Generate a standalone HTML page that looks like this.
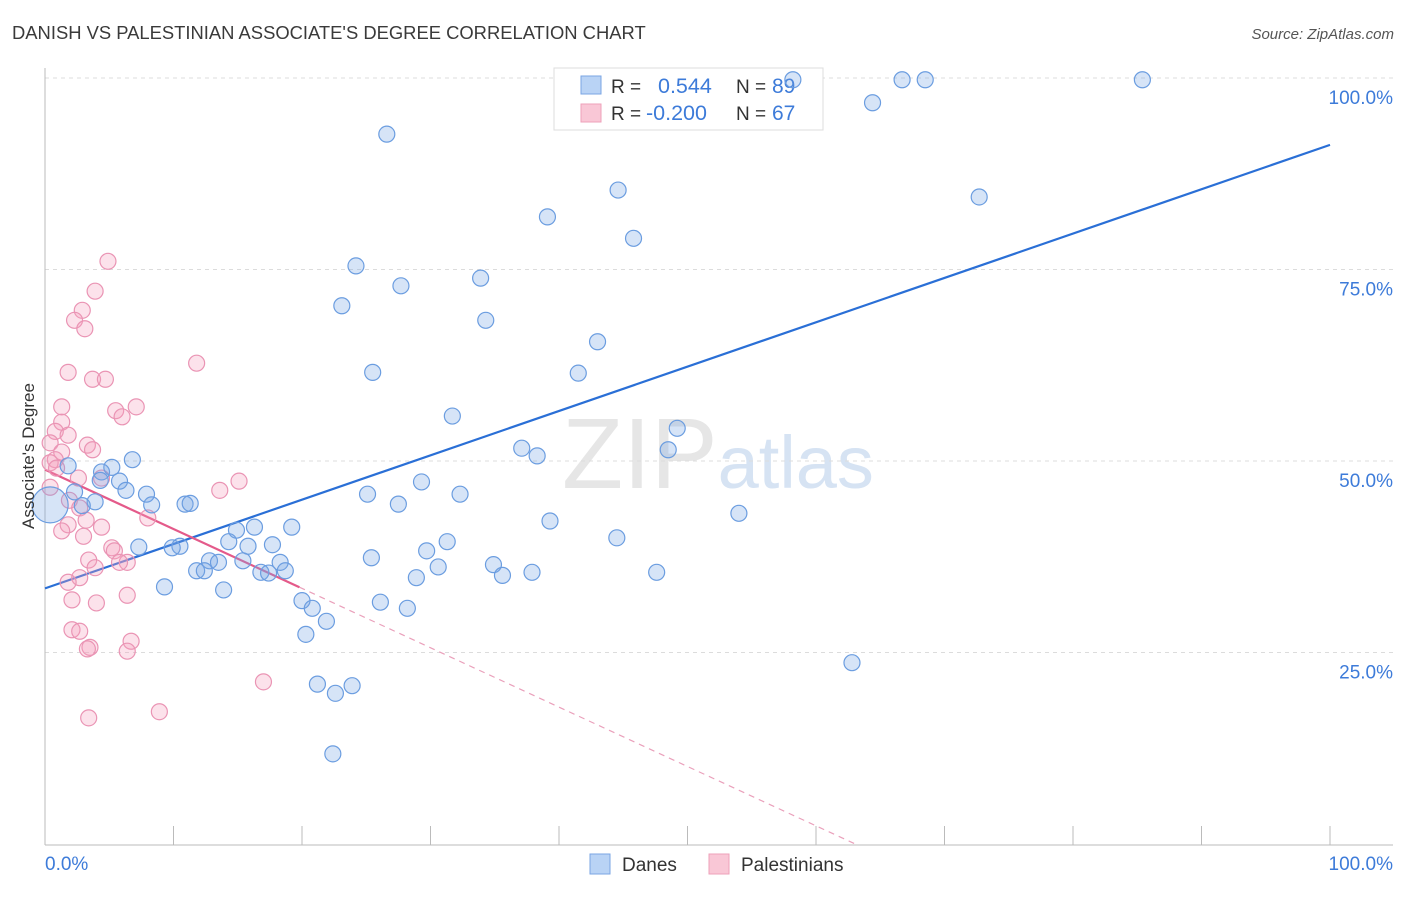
<!DOCTYPE html>
<html><head><meta charset="utf-8"><style>
body{margin:0;background:#fff;font-family:"Liberation Sans",sans-serif;}
svg text{font-family:"Liberation Sans",sans-serif;}
</style></head><body>
<svg id="chart" width="1406" height="892" xmlns="http://www.w3.org/2000/svg">
<text x="12" y="39" font-size="18.4" fill="#3a3a3a">DANISH VS PALESTINIAN ASSOCIATE'S DEGREE CORRELATION CHART</text>
<text x="1394" y="39" font-size="15" fill="#555" text-anchor="end" font-style="italic">Source: ZipAtlas.com</text>
<text x="718" y="488" font-size="100" text-anchor="middle" fill="#e6e6e6" font-family="Liberation Serif">ZIP<tspan fill="#d6e3f3" font-family="Liberation Sans" font-size="74">atlas</tspan></text>
<g id="grid"></g>
<g id="axes"></g>
<g>
<rect x="554" y="68" width="269" height="62" fill="#fff" stroke="#ddd"/>
<rect x="581" y="76" width="20" height="18" fill="#b9d3f5" stroke="#7aa5e3"/>
<rect x="581" y="104" width="20" height="18" fill="#f9c7d6" stroke="#eea0ba"/>
<text x="611" y="93" font-size="19" fill="#333">R =</text><text x="658" y="93" font-size="21.5" fill="#3d7bd9">0.544</text>
<text x="736" y="93" font-size="19" fill="#333">N =</text><text x="772" y="93" font-size="21" fill="#3d7bd9">89</text>
<text x="611" y="120" font-size="19" fill="#333">R =</text><text x="646" y="120" font-size="21.5" fill="#3d7bd9">-0.200</text>
<text x="736" y="120" font-size="19" fill="#333">N =</text><text x="772" y="120" font-size="21" fill="#3d7bd9">67</text>
</g>
<g id="lines"></g>
<g id="points"></g>
<text transform="translate(34,456) rotate(-90)" font-size="17" fill="#333" text-anchor="middle">Associate's Degree</text>
<g>
<rect x="590" y="854" width="20" height="20" fill="#b9d3f5" stroke="#7aa5e3"/>
<text x="622" y="871" font-size="19" fill="#333">Danes</text>
<rect x="709" y="854" width="20" height="20" fill="#f9c7d6" stroke="#eea0ba"/>
<text x="741" y="871" font-size="19" fill="#333">Palestinians</text>
</g>
</svg>
<script>
const xTicks=[0,10,20,30,40,50,60,70,80,90,100];
const yTicks=[25,50,75,100];
const yTickLabels=["25.0%","50.0%","75.0%","100.0%"];
const xAxisLabels=["0.0%","100.0%"];
const danesX=[58.2,66.7,68.5,85.4,64.4,26.6,44.6,72.7,39.1,45.8,24.2,33.9,27.7,23.1,34.3,43.0,25.5,41.5,31.7,49.2,37.1,38.3,48.5,6.8,1.8,5.2,4.4,5.8,29.3,4.3,6.3,2.3,7.9,25.1,32.3,27.5,3.9,2.9,8.3,10.9,11.3,54.0,39.3,16.3,19.2,14.9,31.3,44.5,14.3,10.5,15.8,17.7,7.3,9.9,29.7,25.4,12.8,13.5,18.3,34.9,30.6,15.4,11.8,12.4,16.8,17.4,18.7,37.9,47.6,35.6,28.9,9.3,13.9,20.0,26.1,20.8,28.2,21.9,20.3,62.8,21.2,23.9,22.6,22.4,0.4];
const danesY=[99.9,99.9,99.9,99.9,96.9,92.8,85.5,84.6,82.0,79.2,75.6,74.0,73.0,70.4,68.5,65.7,61.7,61.6,56.0,54.4,51.8,50.8,51.6,50.3,49.5,49.3,48.7,47.5,47.4,47.6,46.3,46.1,45.8,45.8,45.8,44.5,44.8,44.3,44.4,44.5,44.6,43.3,42.3,41.5,41.5,41.1,39.6,40.1,39.6,39.0,39.0,39.2,38.9,38.8,38.4,37.5,37.1,36.9,36.9,36.6,36.3,37.1,35.8,35.8,35.6,35.5,35.8,35.6,35.6,35.2,34.9,33.7,33.3,31.9,31.7,30.9,30.9,29.2,27.5,23.8,21.0,20.8,19.8,11.9,44.4];
const palX=[4.9,3.9,2.9,2.3,3.1,11.8,1.8,3.7,4.7,7.1,1.3,5.5,6.0,1.3,0.8,1.8,0.4,3.3,3.7,1.3,0.8,0.4,0.9,2.6,4.4,15.1,0.4,13.6,1.9,2.7,8.0,3.2,1.8,1.3,4.4,3.0,5.2,5.4,3.4,6.4,5.8,3.9,2.7,1.8,6.4,2.1,4.0,2.1,2.7,6.7,3.5,3.3,6.4,17.0,8.9,3.4];
const palY=[76.2,72.3,69.8,68.5,67.4,62.9,61.7,60.8,60.8,57.2,57.2,56.7,55.9,55.2,54.0,53.5,52.5,52.2,51.6,51.3,50.3,49.9,49.2,47.9,47.9,47.5,46.7,46.3,45.0,44.0,42.7,42.4,41.8,41.0,41.5,40.3,38.8,38.4,37.2,36.9,36.9,36.2,34.9,34.3,32.6,32.0,31.6,28.1,27.9,26.6,25.8,25.6,25.3,21.3,17.4,16.6];
const danesLine=[33.5,91.4];
const palLine=[49.0,-0.775];
const NS="http://www.w3.org/2000/svg";
const X=v=>45+v*12.85, Y=v=>845-v*7.66;
function mk(tag,attrs,parent){const e=document.createElementNS(NS,tag);for(const k in attrs)e.setAttribute(k,attrs[k]);parent.appendChild(e);return e;}
const grid=document.getElementById('grid'),axes=document.getElementById('axes'),lines=document.getElementById('lines'),pts=document.getElementById('points');
yTicks.forEach((t,i)=>{
 const g=mk('line',{x1:45,x2:1393,y1:Y(t)-1,y2:Y(t)-1,stroke:'#dcdcdc','stroke-dasharray':'4,4'},grid);
 
 
 const l=mk('text',{x:1393,y:Y(t)+25,'font-size':19,fill:'#3d7bd9','text-anchor':'end'},grid);
 l.textContent=yTickLabels[i];
 
 
});
const ya=mk('line',{x1:45,x2:45,y1:68,y2:845,stroke:'#bbb'},axes);


const xa=mk('line',{x1:45,x2:1393,y1:845,y2:845,stroke:'#bbb'},axes);


xTicks.forEach(t=>{const tk=mk('line',{x1:X(t),x2:X(t),y1:826,y2:845,stroke:'#bbb'},axes);
 
 });
[[0,'start'],[100,'end']].forEach((a,i)=>{const l=mk('text',{x:i?1393:45,y:870,'font-size':19,fill:'#3d7bd9','text-anchor':a[1]},axes);l.textContent=xAxisLabels[i];
 
 });
const bl=mk('line',{x1:X(0),y1:Y(danesLine[0]),x2:X(100),y2:Y(danesLine[1]),stroke:'#2a6fd6','stroke-width':2.2},lines);


const pxEnd=Math.max(...palX)+2.8, pxZero=-palLine[0]/palLine[1];
const pl=mk('line',{x1:X(0),y1:Y(palLine[0]),x2:X(pxEnd),y2:Y(palLine[0]+palLine[1]*pxEnd),stroke:'#e45a8a','stroke-width':2.2},lines);


const pd=mk('line',{x1:X(pxEnd),y1:Y(palLine[0]+palLine[1]*pxEnd),x2:X(pxZero),y2:Y(0),stroke:'#eaa0bb','stroke-width':1.2,'stroke-dasharray':'6,5'},lines);


palX.forEach((x,i)=>{const c=mk('circle',{cx:X(x),cy:Y(palY[i]),r:8,fill:'rgba(244,160,190,0.3)',stroke:'#ea94b4','stroke-width':1.2},pts);
 
 });
danesX.forEach((x,i)=>{const c=mk('circle',{cx:X(x),cy:Y(danesY[i]),r:i===danesX.length-1?18:8,fill:'rgba(120,165,230,0.3)',stroke:'#6b9de0','stroke-width':1.2},pts);
 
 });
</script>
</body></html>
